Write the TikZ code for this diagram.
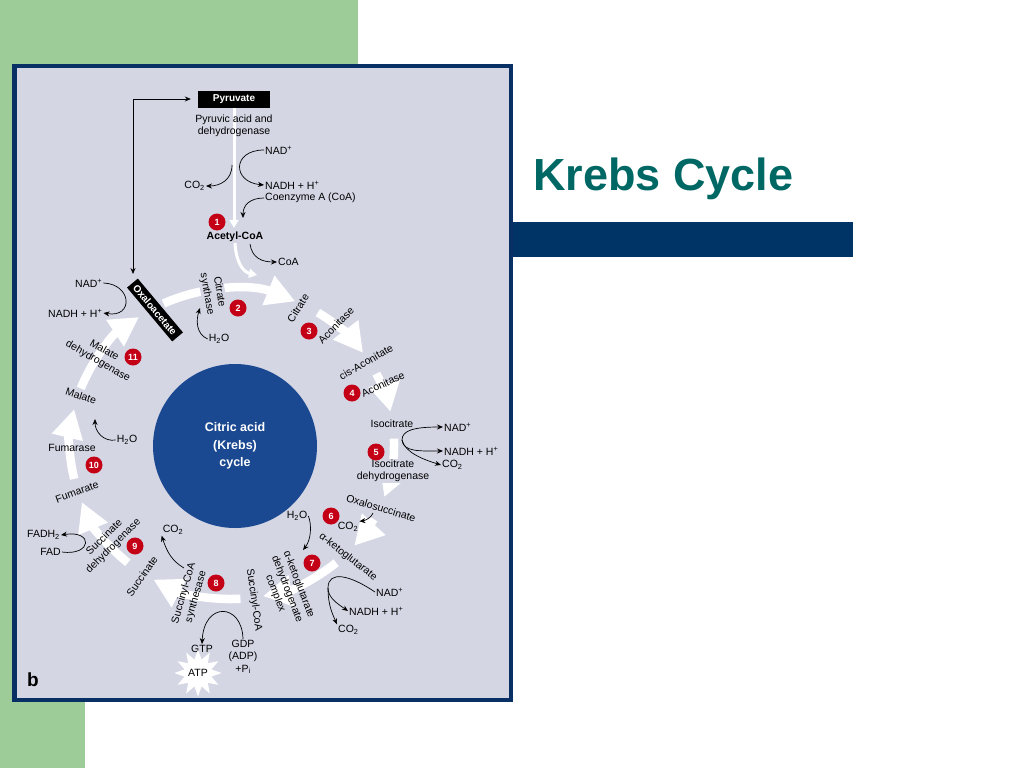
\documentclass[tikz,border=0pt]{standalone}
\usepackage{fontspec}
\setmainfont{Liberation Sans}
\usetikzlibrary{arrows.meta, shapes.geometric}

\definecolor{slidegreen}{RGB}{158,204,152}
\definecolor{panelbg}{RGB}{212,214,228}
\definecolor{panelblue}{RGB}{8,48,100}
\definecolor{barblue}{RGB}{0,51,102}
\definecolor{titleteal}{RGB}{0,104,100}
\definecolor{diskblue}{RGB}{26,72,145}
\definecolor{stepred}{RGB}{196,0,22}

% one white segment of the cycle, from angle #1 to angle #2
\newcommand{\ringseg}[2]{\draw[ring] ([shift={(#1:162 and 155)}]ctr) arc[start angle=#1, end angle=#2, x radius=162, y radius=155];}

\begin{document}
\begin{tikzpicture}[x=1pt, y=-1pt, >={Stealth[length=6pt, width=5pt]},
    lbl/.style={font=\fontsize{10.5}{12.5}\selectfont, inner sep=1pt, align=center},
    stepnum/.style={circle, fill=stepred, text=white, font=\bfseries\fontsize{9}{9}\selectfont, minimum size=17pt, inner sep=0pt},
    blackbox/.style={fill=black, text=white, font=\bfseries\fontsize{10}{10}\selectfont, inner sep=2pt},
    ring/.style={white, line width=8.5pt, -{Triangle[length=29pt, width=30pt]}},
    whitearrow/.style={white, line width=3pt, -{Triangle[length=8pt, width=9pt]}},
    side/.style={line width=0.7pt, ->}]
  \useasboundingbox (0,0) rectangle (1024,768);
  \fill[white] (0,0) rectangle (1024,768);
  \fill[slidegreen] (0,0) rectangle (358,66);
  \fill[slidegreen] (0,0) rectangle (85,768);
  \filldraw[fill=panelbg, draw=panelblue, line width=4.5pt] (14.5,66) rectangle (511,700);
  \fill[barblue] (513,222) rectangle (853,257);
  \node[anchor=base west, inner sep=0pt, text=titleteal, font=\bfseries\fontsize{45}{45}\selectfont] (title) at (533,190) {Krebs Cycle};

  % the cycle
  \coordinate (ctr) at (232,444);
  \ringseg{-115}{-67}
  \ringseg{-58}{-36}
  \ringseg{-27}{-12}
  \ringseg{-2}{20}
  \ringseg{29}{41}
  \ringseg{50}{79}
  \ringseg{87}{119}
  \ringseg{130}{158}
  \ringseg{167}{193}
  \ringseg{201}{235}
  \node[circle, fill=diskblue, minimum size=164pt, text=white, align=center,
        font=\bfseries\fontsize{12.5}{17.5}\selectfont] (disk) at (235,446) {Citric acid\\(Krebs)\\cycle};

  % pyruvate to acetyl-CoA
  \node[blackbox, minimum width=72pt, minimum height=17pt] (pyr) at (234,99) {Pyruvate};
  \node[lbl, font=\bfseries\fontsize{10.5}{11}\selectfont] (acoa) at (235,237) {Acetyl-CoA};
  \coordinate (acend) at (257,275);
  \draw[whitearrow, shorten >=3pt] (pyr.south) -- (pyr.south |- acoa.north);
  \draw[whitearrow] (acoa.south) .. controls (236,262) and (243,272) .. (acend);
  \node[lbl] (pdh) at (234,126) {Pyruvic acid and\\dehydrogenase};
  \node[lbl, anchor=west] (nad1) at (264,150) {NAD\textsuperscript{+}};
  \node[lbl, anchor=east] (co21) at (206,186) {CO\textsubscript{2}};
  \node[lbl, anchor=west] (nadh1) at (264,185) {NADH + H\textsuperscript{+}};
  \node[lbl, anchor=west] (coa1) at (264,198) {Coenzyme A (CoA)};
  \node[lbl, anchor=west] (coa2) at (277,262) {CoA};
  \coordinate (pj) at (232,165);
  \coordinate (coaend) at (243,218);
  \coordinate (coast) at (250,244);
  \draw[side] (nad1.west) .. controls (232,150) and (232,182) .. (nadh1.west);
  \draw[side] (pj) .. controls (232,180) and (220,186) .. (co21.east);
  \draw[side] (coa1.west) .. controls (250,198) and (243,205) .. (coaend);
  \draw[side] (coast) .. controls (252,258) and (262,262) .. (coa2.west);

  % oxaloacetate and the way back
  \node[blackbox, rotate=-50, minimum height=14pt, inner xsep=4pt] (oxa) at (155,310) {Oxaloacetate};
  \coordinate (oxtop) at (133,274);
  \draw[side, <->, shorten >=7pt] (oxtop) |- (pyr.west);

  % step 2
  \node[lbl, rotate=-80, fill=panelbg] (cs) at (213,293) {Citrate\\synthase};
  \node[lbl] (h2o2) at (219,339) {H\textsubscript{2}O};
  \coordinate (h2o2end) at (200,308);
  \draw[side] (h2o2.west) .. controls (196,334) and (196,320) .. (h2o2end);

  % steps 3 to 5
  \node[lbl, rotate=58] (cit) at (298,308) {Citrate};
  \node[lbl, rotate=46] (aco1) at (336,325) {Aconitase};
  \node[lbl, rotate=30] (cisa) at (366,362) {cis-Aconitate};
  \node[lbl, rotate=25] (aco2) at (383,384) {Aconitase};
  \node[lbl] (isoc) at (392,424) {Isocitrate};
  \node[lbl, fill=panelbg] (idh) at (393,471) {Isocitrate\\dehydrogenase};
  \node[lbl, anchor=west] (nad5) at (443,427) {NAD\textsuperscript{+}};
  \node[lbl, anchor=west] (nadh5) at (443,451) {NADH + H\textsuperscript{+}};
  \node[lbl, anchor=west] (co25) at (441,465) {CO\textsubscript{2}};
  \coordinate (iso5) at (402,440);
  \draw[side] (iso5) .. controls (402,430) and (415,427) .. (nad5.west);
  \draw[side] (iso5) .. controls (403,452) and (420,451) .. (nadh5.west);
  \draw[side] (iso5) .. controls (405,453) and (425,460) .. (co25.west);

  % steps 6 and 7
  \node[lbl, rotate=-17] (oxs) at (381,508) {Oxalosuccinate};
  \node[lbl] (co26) at (348,527) {CO\textsubscript{2}};
  \coordinate (oxsj) at (373,513);
  \draw[side] (oxsj) .. controls (370,520) and (362,521) .. (co26.north east);
  \node[lbl] (h2o6) at (297,516) {H\textsubscript{2}O};
  \coordinate (h2o6end) at (303,550);
  \draw[side] (h2o6.east) .. controls (312,525) and (311,540) .. (h2o6end);
  \node[lbl, rotate=-38] (akg) at (348,557) {α-ketoglutarate};
  \node[lbl, rotate=-69] (akgdh) at (287,589) {α-ketoglutarate\\dehydrogenate\\complex};
  \node[lbl, anchor=west] (nad7) at (375,592) {NAD\textsuperscript{+}};
  \node[lbl, anchor=west] (nadh7) at (348,611) {NADH + H\textsuperscript{+}};
  \node[lbl, anchor=west] (co27) at (337,630) {CO\textsubscript{2}};
  \coordinate (akgj) at (328,588);
  \draw[line width=0.7pt] (nad7.west) .. controls (350,575) and (328,570) .. (akgj);
  \draw[side] (akgj) .. controls (328,598) and (338,604) .. (nadh7.west);
  \draw[side] (akgj) .. controls (328,606) and (333,615) .. (co27.north west);

  % step 8
  \node[lbl, rotate=-82] (scoa) at (254,600) {Succinyl-CoA};
  \node[lbl] (gdp) at (243,657) {GDP\\(ADP)\\+P\textsubscript{i}};
  \node[lbl] (gtp) at (202,649) {GTP};
  \draw[side] (gdp.north) .. controls (242,603) and (204,601) .. (gtp.north);
  \node[lbl, star, star points=12, star point ratio=1.7, fill=white, minimum size=44pt, inner sep=0pt] (atp) at (198,673) {ATP};
  \node[lbl, rotate=74] (scs) at (190,595) {Succinyl-CoA\\synthesase};
  \node[lbl] (co28) at (173,530) {CO\textsubscript{2}};
  \coordinate (scsj) at (184,568);
  \draw[side] (scsj) .. controls (172,561) and (167,552) .. (co28.south west);

  % steps 9 to 11
  \node[lbl, rotate=55] (succ) at (142,576) {Succinate};
  \node[lbl, rotate=45] (sdh) at (109,542) {Succinate\\dehydrogenase};
  \node[lbl, anchor=east] (fadh) at (61,535) {FADH\textsubscript{2}};
  \node[lbl, anchor=east] (fad) at (62,552) {FAD};
  \draw[side] (fad.east) .. controls (92,556) and (94,530) .. (fadh.east);
  \node[lbl, rotate=20] (fum) at (77,492) {Fumarate};
  \node[lbl] (fumase) at (72,448) {Fumarase};
  \node[lbl] (h2o10) at (127,440) {H\textsubscript{2}O};
  \coordinate (h2o10end) at (95,419);
  \draw[side] (h2o10.west) .. controls (104,442) and (95,432) .. (h2o10end);
  \node[lbl, rotate=-18] (mal) at (81,396) {Malate};
  \node[lbl, rotate=-30] (mdh) at (101,356) {Malate\\dehydrogenase};
  \node[lbl, anchor=west] (nad11) at (74,283) {NAD\textsuperscript{+}};
  \node[lbl, anchor=west] (nadh11) at (47,313) {NADH + H\textsuperscript{+}};
  \draw[side] (nad11.east) .. controls (132,284) and (134,318) .. (nadh11.east);

  % step numbers
  \node[stepnum] (s1) at (217,222) {1};
  \node[stepnum] (s2) at (238,308) {2};
  \node[stepnum] (s3) at (309,331) {3};
  \node[stepnum] (s4) at (352,393) {4};
  \node[stepnum] (s5) at (376,452) {5};
  \node[stepnum] (s6) at (331,516) {6};
  \node[stepnum] (s7) at (312,563) {7};
  \node[stepnum] (s8) at (216,583) {8};
  \node[stepnum] (s9) at (135,546) {9};
  \node[stepnum] (s10) at (94,465) {10};
  \node[stepnum] (s11) at (133,357) {11};

  \node[anchor=base west, inner sep=0pt, font=\bfseries\fontsize{19}{19}\selectfont] (panelb) at (27,686) {b};
\end{tikzpicture}
\end{document}
